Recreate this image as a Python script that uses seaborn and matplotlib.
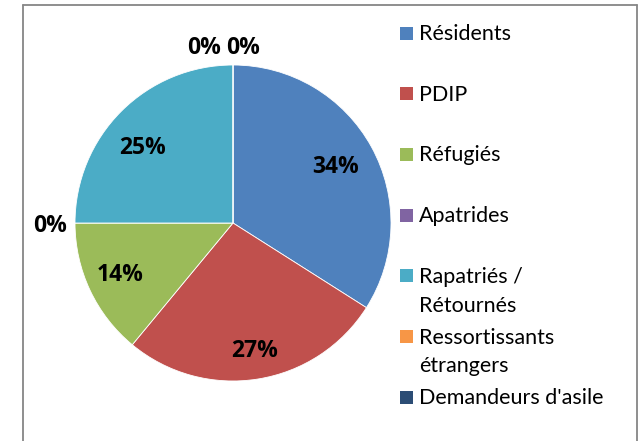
import matplotlib
matplotlib.use("Agg")
import matplotlib.pyplot as plt
import seaborn as sns
import numpy as np
from matplotlib.patches import Rectangle
from matplotlib.lines import Line2D

categories = ["Résidents", "PDIP", "Réfugiés", "Apatrides", "Rapatriés /\nRétournés",
              "Ressortissants\nétrangers", "Demandeurs d'asile"]
values = [34, 27, 14, 0, 25, 0, 0]
colors = ["#4F81BD", "#C0504D", "#9BBB59", "#8064A2", "#4BACC6", "#F79646", "#2C4D75"]

sns.set_theme(style="white")
plt.rcParams['font.family'] = ['Lato', 'DejaVu Sans']
BOLD = ['Open Sans', 'DejaVu Sans']

W, H = 641, 441
fig = plt.figure(figsize=(W / 100, H / 100), dpi=100)
fig.patch.set_facecolor("white")

cx, cy, R = 233, 223, 158
ax = fig.add_axes([(cx - R) / W, (H - cy - R) / H, 2 * R / W, 2 * R / H])
palette = sns.color_palette(colors)

LFS = 16.5
wedges, texts, autotexts = ax.pie(
    values, colors=palette, startangle=90, counterclock=False, radius=1,
    autopct=lambda p: f"{p:.0f}%" if p > 0.5 else "", pctdistance=0.76,
    wedgeprops=dict(edgecolor="white", linewidth=0.6),
    textprops=dict(fontsize=LFS, fontweight="bold", color="black", family=BOLD))
ax.set_xlim(-1, 1)
ax.set_ylim(-1, 1)
ax.set_aspect("auto")
ax.axis("off")

# Excel "best fit" label placement: radius and angle nudge per wedge (layout only)
label_r = {0: 0.75, 1: 0.80, 2: 0.78, 4: 0.76}
label_dang = {0: 1.1, 1: 0.8, 2: -1.8, 4: 3.9}
DY = -0.022  # compensate text-box vs. glyph centre
for i, (w, t) in enumerate(zip(wedges, autotexts)):
    if values[i] == 0:
        continue
    mid = 0.5 * (w.theta1 + w.theta2) + label_dang[i]
    th = np.deg2rad(mid)
    t.set_position((label_r[i] * np.cos(th), label_r[i] * np.sin(th) + DY))

# zero-value labels placed just outside their (empty) wedges
placement = {3: (1.05, 0.0, "right"), 5: (1.127, -0.076, "right"),
             6: (1.127, -0.044, "left")}
for i, v in enumerate(values):
    if v != 0:
        continue
    th = np.deg2rad(wedges[i].theta1)
    r, dx, ha = placement[i]
    x = r * np.cos(th) + dx
    y = r * np.sin(th) + DY
    ax.text(x, y, "0%", ha=ha, va="center", fontsize=LFS, fontweight="bold",
            color="black", family=BOLD)

# legend (manual, Excel-like: marker aligned with first text line)
y0, step = 33, 60.7
sq = 13
for i, (lab, col) in enumerate(zip(categories, colors)):
    yc = y0 + step * i
    fig.patches.append(Rectangle((400 / W, (H - yc - sq / 2) / H), sq / W, sq / H,
                                 transform=fig.transFigure, facecolor=col,
                                 edgecolor="none"))
    for j, line in enumerate(lab.split("\n")):
        fig.text(419 / W, (H - (yc + 7 + 29 * j)) / H, line, ha="left",
                 va="baseline", fontsize=15.5, color="black")

# chart border
bc = "#868686"
fig.add_artist(Line2D([22.5 / W, 22.5 / W], [0, 1 - 4.5 / H], transform=fig.transFigure,
                      color=bc, lw=1.3))
fig.add_artist(Line2D([636.5 / W, 636.5 / W], [0, 1 - 4.5 / H], transform=fig.transFigure,
                      color=bc, lw=1.3))
fig.add_artist(Line2D([22.5 / W, 636.5 / W], [1 - 4.5 / H, 1 - 4.5 / H],
                      transform=fig.transFigure, color=bc, lw=1.3))

fig.savefig("out.png", dpi=100, facecolor="white")
